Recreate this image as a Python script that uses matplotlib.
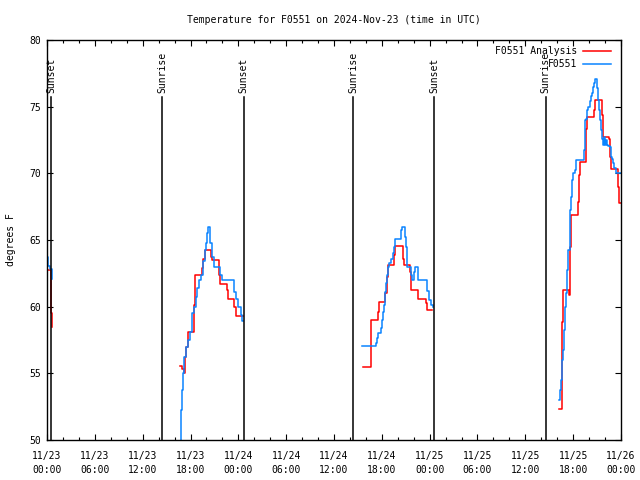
import matplotlib
matplotlib.use('Agg')
import matplotlib.pyplot as plt
from matplotlib.ticker import MultipleLocator

# hours since 2024-11-23 00:00 UTC
tick_hours = [0, 6, 12, 18, 24, 30, 36, 42, 48, 54, 60, 66, 72]
tick_labels = ['11/23\n00:00', '11/23\n06:00', '11/23\n12:00', '11/23\n18:00',
               '11/24\n00:00', '11/24\n06:00', '11/24\n12:00', '11/24\n18:00',
               '11/25\n00:00', '11/25\n06:00', '11/25\n12:00', '11/25\n18:00',
               '11/26\n00:00']

sun_hours = [0.50, 14.48, 24.67, 38.43, 48.56, 62.55]
sun_names = ['Sunset', 'Sunrise', 'Sunset', 'Sunrise', 'Sunset', 'Sunrise']

# F0551 Analysis (red), one list per stretch of data
ana_t0 = [0.0, 0.45, 0.55, 0.6, 0.65]
ana_v0 = [62.75, 61.7, 59.5, 58.5, 58.5]
ana_t1 = [16.69, 16.9, 17.15, 17.31, 17.48, 17.69, 18.5, 18.62, 19.45, 19.62,
          19.8, 20.52, 20.7, 21.52, 21.7, 22.55, 22.72, 23.5, 23.75, 24.55]
ana_v1 = [55.55, 55.3, 55.0, 56.2, 57.0, 58.1, 60.1, 62.4, 62.9, 63.6,
          64.25, 63.7, 63.5, 62.4, 61.7, 61.25, 60.6, 60.0, 59.3, 59.3]
ana_t2 = [39.65, 40.6, 41.55, 41.65, 42.45, 42.6, 42.75, 43.5, 43.65, 44.6,
          44.75, 45.5, 45.6, 45.7, 46.5, 47.5, 47.7, 48.35]
ana_v2 = [55.5, 59.0, 59.6, 60.35, 61.0, 62.2, 63.1, 63.9, 64.55, 63.6,
          63.1, 62.6, 62.0, 61.25, 60.6, 60.3, 59.75, 59.75]
ana_t3 = [64.28, 64.58, 64.62, 64.74, 65.45, 65.58, 65.66, 65.75, 66.6, 66.75,
          66.88, 67.67, 67.79, 68.67, 68.8, 69.6, 69.8, 70.5, 70.64, 70.77,
          71.64, 71.81, 71.95]
ana_v3 = [52.3, 55.5, 58.85, 61.25, 60.9, 62.5, 64.5, 66.9, 67.85, 69.9,
          70.85, 73.3, 74.2, 74.75, 75.5, 74.4, 72.75, 72.6, 71.2, 70.3,
          69.0, 67.8, 67.8]

# F0551 observations (blue)
obs_t0 = [0.0, 0.1, 0.35, 0.6, 0.65]
obs_v0 = [63.7, 63.05, 62.85, 62.1, 62.1]
obs_t1 = [16.6, 16.75, 16.9, 17.05, 17.2, 17.4, 17.65, 17.9, 18.15, 18.4,
          18.7, 18.85, 19.1, 19.3, 19.55, 19.8, 19.95, 20.1, 20.25, 20.5,
          20.65, 20.9, 21.65, 21.9, 23.4, 23.65, 23.9, 24.3, 24.45, 24.6]
obs_v1 = [48.0, 52.25, 53.75, 55.0, 56.2, 57.0, 57.5, 58.1, 59.5, 60.0,
          60.7, 61.4, 62.0, 62.4, 63.4, 64.25, 64.8, 65.5, 66.0, 64.8,
          63.7, 63.0, 62.4, 62.0, 61.1, 60.6, 60.0, 59.4, 58.9, 58.9]
obs_t2 = [39.5, 41.3, 41.4, 41.5, 41.85, 42.05, 42.2, 42.3, 42.45, 42.55,
          42.65, 42.8, 42.95, 43.15, 43.35, 43.5, 43.65, 44.4, 44.55, 44.85,
          45.0, 45.1, 45.2, 45.65, 45.8, 46.0, 46.2, 46.55, 47.7, 47.95,
          48.2, 48.4, 48.45]
obs_v2 = [57.05, 57.3, 57.65, 58.0, 58.4, 59.0, 59.6, 60.1, 61.1, 61.8,
          62.4, 63.0, 63.3, 63.6, 64.0, 64.5, 65.1, 65.75, 66.0, 65.2,
          64.5, 63.6, 63.0, 62.4, 62.0, 62.6, 63.0, 62.0, 61.2, 60.5,
          60.1, 60.0, 60.0]
obs_t3 = [64.28, 64.4, 64.49, 64.62, 64.74, 64.87, 65.0, 65.16, 65.28, 65.41,
          65.58, 65.66, 65.78, 65.91, 66.04, 66.25, 66.37, 67.38, 67.47, 67.63,
          67.75, 67.92, 68.09, 68.22, 68.34, 68.51, 68.63, 68.76, 69.01, 69.13,
          69.26, 69.39, 69.51, 69.64, 69.76, 69.89, 70.01, 70.14, 70.3, 70.43,
          70.64, 70.77, 70.93, 71.05, 71.18, 71.39, 71.95]
obs_v3 = [53.0, 53.75, 54.5, 56.0, 56.75, 58.25, 60.0, 61.0, 62.75, 64.25,
          65.75, 67.25, 68.25, 69.5, 70.0, 70.25, 71.0, 71.75, 74.0, 74.1,
          74.75, 75.0, 75.4, 75.8, 76.0, 76.5, 76.75, 77.1, 76.4, 75.5,
          74.75, 74.0, 73.25, 72.6, 72.1, 72.75, 72.1, 72.5, 72.1, 72.05,
          72.0, 71.2, 71.1, 70.8, 70.4, 70.0, 70.0]

ana_segs = [(ana_t0, ana_v0), (ana_t1, ana_v1), (ana_t2, ana_v2), (ana_t3, ana_v3)]
obs_segs = [(obs_t0, obs_v0), (obs_t1, obs_v1), (obs_t2, obs_v2), (obs_t3, obs_v3)]

plt.rcParams['font.family'] = 'DejaVu Sans Mono'
plt.rcParams['font.size'] = 7

fig = plt.figure(figsize=(6.4, 4.8), dpi=100)
ax = fig.add_axes([47 / 640, 40 / 480, 574 / 640, 400 / 480])

red = '#ff0000'
blue = '#0a84ff'

for i, (t, v) in enumerate(ana_segs):
    ax.plot(t, v, color=red, lw=1.1, drawstyle='steps-post',
            label='F0551 Analysis' if i == 0 else None)
for i, (t, v) in enumerate(obs_segs):
    ax.plot(t, v, color=blue, lw=1.1, drawstyle='steps-post',
            label='F0551' if i == 0 else None)

# sunrise / sunset markers
for h, name in zip(sun_hours, sun_names):
    ax.plot([h, h], [50, 75.7], color='black', lw=1.1)
    ax.text(h, 76.0, name, rotation=90, ha='center', va='bottom')

ax.set_xlim(0, 72)
ax.set_ylim(50, 80)
ax.set_xticks(tick_hours)
ax.set_xticklabels(tick_labels, linespacing=1.5)
ax.xaxis.set_minor_locator(MultipleLocator(2))
ax.yaxis.set_major_locator(MultipleLocator(5))
ax.tick_params(which='both', direction='in', top=True, right=True, width=0.8)
ax.tick_params(which='major', length=4)
ax.tick_params(which='minor', length=2.2)
ax.tick_params(axis='x', pad=8)
ax.tick_params(axis='y', pad=4)
for s in ax.spines.values():
    s.set_linewidth(1.0)

ax.set_title('Temperature for F0551 on 2024-Nov-23 (time in UTC)', fontsize=7, pad=12)
ax.set_ylabel('degrees F', labelpad=10)

ax.legend(loc='upper right', bbox_to_anchor=(0.983, 0.985), frameon=False,
          markerfirst=False, handlelength=2.9, handletextpad=0.6,
          borderpad=0, borderaxespad=0, labelspacing=0.35)

fig.savefig('out.png', dpi=100)
